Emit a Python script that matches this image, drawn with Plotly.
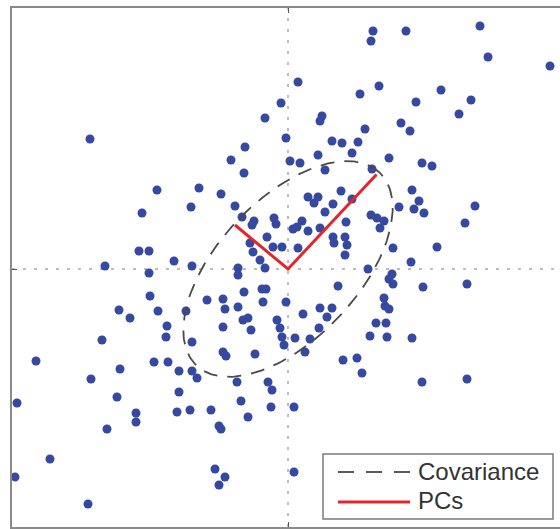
import numpy as np
import plotly.graph_objects as go

# Sample observations (2-D)
x_vals = [
    1.70, 1.66, 2.36, 3.84, 4.00, 5.24, 1.82, 3.06, 2.56, 3.66, 3.42, 2.26, 2.44, 0.20, -0.14,
    -0.46, 0.68, 0.64, 1.44, 1.54, -0.04, 0.88, 1.08, 1.40, -0.86, -1.14, 0.04, 0.24, 0.60, 1.28,
    -0.88, 0.74, 1.68, 2.02, 2.68, 2.88, -3.96,
    -2.62, -2.92, -1.94, -2.98, -2.78, -2.28, -3.66, -2.78, -1.92, -1.78, -1.34, -1.06, -0.92,
    -0.68, -0.72, -0.28, -0.24, -0.42, -0.76, -0.30, -0.12, -0.70, -0.56, -0.46, -1.00, -1.00,
    1.06, 0.40, 0.60, 0.52, 0.90, 1.28, 0.74, 0.28, 0.10, 0.18, 0.40, 0.64, 1.16, 0.90, 1.14,
    0.92, 1.18, 1.14, 0.20, 1.66, 1.78, 1.92, 1.84, 2.22, 2.48, 2.62, 2.52, 2.72, 3.74, 3.54,
    2.10, 2.98, 2.46, 1.60,
    2.08, 2.02, 2.10, 2.70, 3.58, 1.00, -2.76, -3.38, -3.16, -2.60, -2.04, -2.42, -2.44, -3.72,
    -1.92, -0.88, -0.52, -0.44, -0.50, -0.04, -1.62, -1.30, -1.26, -1.00, 0.64, 0.88, 0.78,
    0.30, -0.90, -0.80, -0.22, -0.16, -1.30, -0.74, 0.62, 1.92, 1.94, 2.02, 1.76, 1.96, 1.64,
    1.98, 2.48, 0.14, 0.44, -0.12, -0.08, 0.34, -1.30, -1.24, -0.66, 1.10, 1.38, 1.48,
    -5.04, -3.94, -3.36, -2.68, -2.40, -2.18, -1.92, -2.18, -3.42, -5.42, -3.04, -3.04, -2.22,
    -1.96, -3.62, -4.76, -5.46, -4.00, -1.82, -1.02, -0.40, -0.32, -0.94, -1.54, -0.34, 0.12,
    -0.80, -1.38, -1.34, -1.46, -1.26, -1.38, 0.12, 2.68, 3.58,
]
y_vals = [
    4.76, 4.56, 4.76, 4.86, 4.24, 4.06, 3.66, 3.58, 3.34, 3.38, 3.10, 2.92, 2.76, 3.74, 3.32,
    3.02, 3.06, 2.96, 3.50, 2.80, 2.62, 2.56, 2.52, 2.54, 2.44, 2.18, 2.16, 2.12, 2.28, 2.32,
    1.92, 1.98, 2.00, 2.22, 2.12, 2.06, 2.60,
    1.58, 1.12, 1.24, 0.36, 0.36, 0.16, 0.06, -0.08, 0.06, 1.62, 1.50, 1.26, 1.04,
    0.96, 0.88, 1.02, 0.90, 0.64, 0.52, 0.44, 0.44, 0.34, 0.18, 0.02, 0.02, -0.12,
    1.56, 1.44, 1.44, 1.32, 1.30, 1.40, 1.14, 0.96, 0.80, 0.84, 0.76, 0.82, 0.94, 0.64, 0.64,
    0.52, 0.48, 0.28, 0.42, 1.08, 1.02, 0.96, 0.82, 1.24, 1.58, 1.36, 1.20, 1.12, 1.26, 0.92,
    0.42, 0.44, 0.14, 0.00,
    -0.10, -0.20, -0.30, -0.36, -0.30, -0.34, -0.54, -0.82, -0.98, -0.84, -0.84, -1.14, -1.36,
    -1.42, -1.46, -0.46, -0.40, -0.40, -0.66, -0.66, -0.62, -0.60, -0.80, -0.76, -0.78, -0.78,
    -0.96, -0.90, -1.02, -0.98, -1.02, -1.18, -1.16, -1.22, -1.18, -0.58, -0.74, -0.80, -1.08,
    -1.08, -1.34, -1.36, -1.38, -1.38, -1.40, -1.36, -1.52, -1.66, -1.66, -1.74, -1.70, -1.82,
    -1.78, -2.08,
    -1.84, -2.20, -2.00, -1.86, -1.86, -2.04, -2.04, -2.46, -2.56, -2.68, -2.88, -3.06, -2.86,
    -2.82, -3.20, -3.80, -4.16, -4.70, -2.18, -2.26, -2.26, -2.42, -2.64, -2.82, -2.76, -2.76,
    -2.96, -3.14, -3.20, -4.00, -4.16, -4.32, -4.06, -2.26, -2.20,
]

# Principal-component end points (from the sample mean at the origin)
pc_x = [-1.06, 0.0, 1.77]
pc_y = [0.88, 0.0, 1.89]

# Covariance ellipse parameters
ell_center = (0.0, 0.0)
ell_semi_major = 2.66
ell_semi_minor = 1.40
ell_angle_deg = 46.5

t = np.linspace(0, 2 * np.pi, 241)
ang = np.deg2rad(ell_angle_deg)
ex = ell_center[0] + ell_semi_major * np.cos(t) * np.cos(ang) - ell_semi_minor * np.sin(t) * np.sin(ang)
ey = ell_center[1] + ell_semi_major * np.cos(t) * np.sin(ang) + ell_semi_minor * np.sin(t) * np.cos(ang)

BLUE = "#34499f"
RED = "#e3262b"
DASH_GRAY = "#4a4a4a"

fig = go.Figure()

fig.add_trace(go.Scatter(
    x=x_vals, y=y_vals, mode="markers",
    marker=dict(size=9, color=BLUE, line=dict(width=0)),
    showlegend=False, hoverinfo="skip",
))

fig.add_trace(go.Scatter(
    x=ex, y=ey, mode="lines",
    line=dict(color=DASH_GRAY, width=1.8, dash="14px,10px"),
    name="Covariance", showlegend=False, hoverinfo="skip",
))

fig.add_trace(go.Scatter(
    x=pc_x, y=pc_y, mode="lines",
    line=dict(color=RED, width=3),
    name="PCs", showlegend=False, hoverinfo="skip",
))

# Dotted cross-hair through the origin
cross = dict(color="#a8a8a8", width=1.5, dash="3px,8px")
fig.add_shape(type="line", xref="x", yref="paper", x0=0, x1=0, y0=0, y1=1, line=cross, layer="below")
fig.add_shape(type="line", xref="paper", yref="y", x0=0, x1=1, y0=0, y1=0, line=cross, layer="below")

# Legend box drawn in paper coordinates
W, H = 560, 529
ML, MR, MT, MB = 12, 0, 8, 2
PW, PH = W - ML - MR, H - MT - MB


def px_x(p):
    return (p - ML) / PW


def px_y(p):
    return (H - MB - p) / PH


fig.add_shape(type="rect", xref="paper", yref="paper",
              x0=px_x(323), x1=px_x(553), y0=px_y(519), y1=px_y(454),
              line=dict(color="#7a7a7a", width=1.5), fillcolor="white", layer="above")
fig.add_shape(type="line", xref="paper", yref="paper",
              x0=px_x(338), x1=px_x(410), y0=px_y(472), y1=px_y(472),
              line=dict(color="#5a5a5a", width=2, dash="16px,12px"), layer="above")
fig.add_shape(type="line", xref="paper", yref="paper",
              x0=px_x(338), x1=px_x(410), y0=px_y(502), y1=px_y(502),
              line=dict(color=RED, width=3), layer="above")

legend_font = dict(family="Liberation Sans, Arial, sans-serif", size=24, color="#333333")
fig.add_annotation(xref="paper", yref="paper", x=px_x(416), y=px_y(471),
                   text="Covariance", showarrow=False, xanchor="left", yanchor="middle",
                   font=legend_font)
fig.add_annotation(xref="paper", yref="paper", x=px_x(416), y=px_y(500),
                   text="PCs", showarrow=False, xanchor="left", yanchor="middle",
                   font=legend_font)

fig.update_xaxes(
    range=[-5.52, 5.44], showgrid=False, zeroline=False,
    showline=True, linecolor="#8a8a8a", linewidth=2, mirror="ticks",
    ticks="inside", tickvals=[0], ticklen=5, tickcolor="#555555", showticklabels=False,
)
fig.update_yaxes(
    range=[-5.16, 5.22], showgrid=False, zeroline=False,
    showline=True, linecolor="#8a8a8a", linewidth=2, mirror=False,
    ticks="inside", tickvals=[0], ticklen=5, tickcolor="#555555", showticklabels=False,
)

fig.update_layout(
    width=W, height=H, autosize=False,
    margin=dict(l=ML, r=MR, t=MT, b=MB, pad=0),
    plot_bgcolor="white", paper_bgcolor="white",
)

fig.write_html("out.html")
